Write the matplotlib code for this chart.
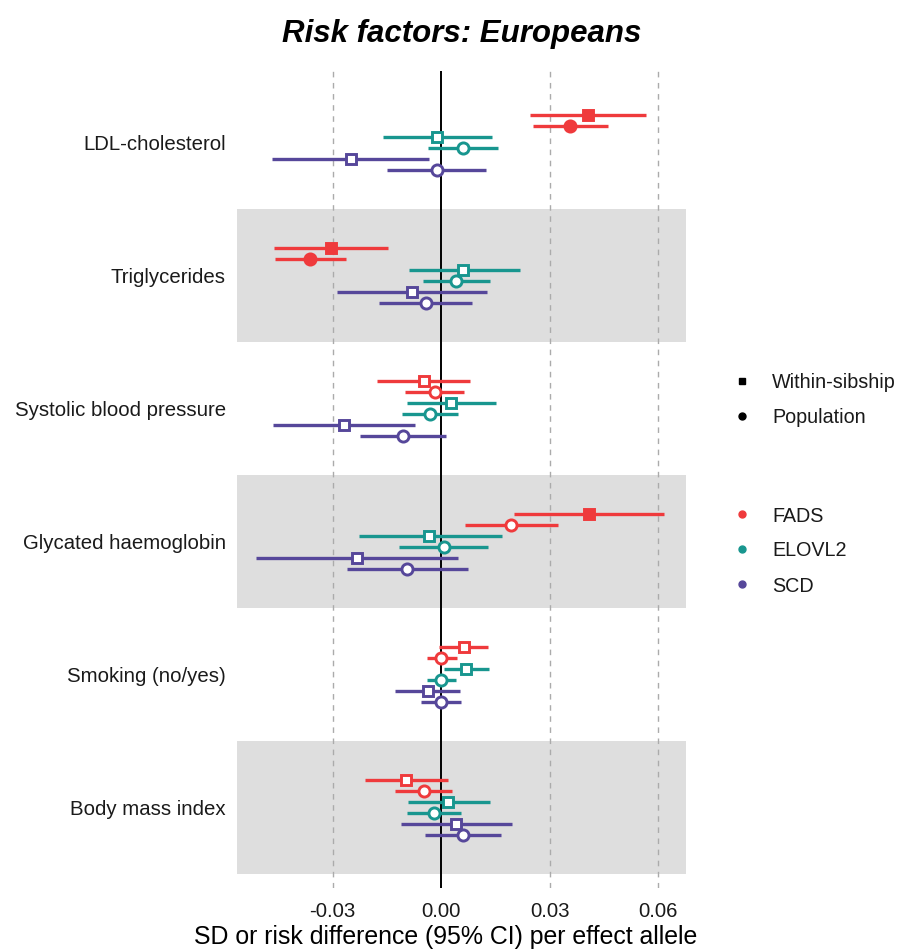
import matplotlib
matplotlib.use("Agg")
from matplotlib import pyplot as plt
from matplotlib.lines import Line2D

plt.rcParams['font.family'] = ['Liberation Sans', 'DejaVu Sans']

# Outcomes, top to bottom
outcomes = ['LDL-cholesterol', 'Triglycerides', 'Systolic blood pressure',
            'Glycated haemoglobin', 'Smoking (no/yes)', 'Body mass index']

genes = ['FADS', 'ELOVL2', 'SCD']
gene_colors = ['#EF3A3C', '#18968F', '#56479A']

# (estimate, lower, upper) per outcome
fads_within = [(0.0406, 0.0246, 0.0566), (-0.0303, -0.0461, -0.0146), (-0.0048, -0.0178, 0.0080),
               (0.0408, 0.0202, 0.0615), (0.0063, -0.0005, 0.0129), (-0.0096, -0.0211, 0.0019)]
fads_pop = [(0.0357, 0.0254, 0.0462), (-0.0362, -0.0459, -0.0264), (-0.0018, -0.0099, 0.0063),
            (0.0194, 0.0067, 0.0322), (0.0001, -0.0038, 0.0043), (-0.0048, -0.0127, 0.0029)]
elovl2_within = [(-0.0011, -0.0161, 0.0141), (0.0062, -0.0089, 0.0218), (0.0028, -0.0094, 0.0151),
                 (-0.0034, -0.0228, 0.0168), (0.0070, 0.0007, 0.0133), (0.0020, -0.0092, 0.0135)]
elovl2_pop = [(0.0061, -0.0037, 0.0157), (0.0041, -0.0050, 0.0136), (-0.0031, -0.0107, 0.0047),
              (0.0008, -0.0116, 0.0131), (0.0000, -0.0038, 0.0040), (-0.0020, -0.0095, 0.0055)]
scd_within = [(-0.0249, -0.0467, -0.0034), (-0.0081, -0.0288, 0.0127), (-0.0269, -0.0465, -0.0073),
              (-0.0232, -0.0511, 0.0047), (-0.0037, -0.0126, 0.0051), (0.0042, -0.0112, 0.0197)]
scd_pop = [(-0.0012, -0.0149, 0.0124), (-0.0043, -0.0171, 0.0085), (-0.0106, -0.0224, 0.0014),
           (-0.0093, -0.0261, 0.0074), (0.0000, -0.0055, 0.0054), (0.0062, -0.0044, 0.0166)]

# filled marker = significant
fads_within_sig = [True, True, False, True, False, False]
fads_pop_sig = [True, True, False, False, False, False]
none_sig = [False] * 6

series = [
    (fads_within, fads_within_sig, 0, 's'),
    (fads_pop, fads_pop_sig, 0, 'o'),
    (elovl2_within, none_sig, 1, 's'),
    (elovl2_pop, none_sig, 1, 'o'),
    (scd_within, none_sig, 2, 's'),
    (scd_pop, none_sig, 2, 'o'),
]

xticks = [-0.03, 0.00, 0.03, 0.06]

fig = plt.figure(figsize=(9.01, 9.51), dpi=100)
ax = fig.add_axes([237 / 901, 1 - 888 / 951, 449 / 901, 817 / 951])

n = len(outcomes)
step = 0.0827
for i, name in enumerate(outcomes):
    yc = n - i
    if i % 2 == 1:
        ax.axhspan(yc - 0.5, yc + 0.5, color='#DEDEDE', lw=0, zorder=0)

for x in xticks:
    if x != 0:
        ax.axvline(x, color='#ABABAB', lw=1, ls=(0, (4, 4)), zorder=1)
ax.axvline(0, color='black', lw=1.4, zorder=2)

for k, (vals, sig, g, mk) in enumerate(series):
    col = gene_colors[g]
    off = (2.5 - k) * step
    for i, (est, lo, hi) in enumerate(vals):
        y = n - i + off
        ax.plot([lo, hi], [y, y], color=col, lw=2.4, solid_capstyle='butt', zorder=3)
        face = col if sig[i] else 'white'
        ax.plot(est, y, marker=mk, ms=7.5 if mk == 's' else 8, mfc=face, mec=col,
                mew=2.1, zorder=4)

ax.set_xlim(-0.0564, 0.0677)
ax.set_ylim(0.5 - 0.105, n + 0.5 + 0.038)
ax.set_xticks(xticks)
ax.set_xticklabels(['-0.03', '0.00', '0.03', '0.06'])
ax.set_yticks([n - i for i in range(n)])
ax.set_yticklabels(outcomes)
ax.tick_params(axis='both', length=0, labelsize=14.7, labelcolor='#1a1a1a')
ax.tick_params(axis='x', pad=10)
ax.tick_params(axis='y', pad=8)
for s in ax.spines.values():
    s.set_visible(False)

ax.set_xlabel('SD or risk difference (95% CI) per effect allele', fontsize=17.9)
ax.xaxis.set_label_coords((446 - 237) / 449, -(937 - 888) / 817, transform=ax.transAxes)
ax.xaxis.label.set_va('center')
ax.set_title('Risk factors: Europeans', fontsize=22.5, fontweight='bold', style='italic', pad=21)

# legends (drawn by hand at figure coordinates)
def fig_marker(xp, yp, mk, col, ms):
    fig.add_artist(Line2D([xp / 901], [1 - yp / 951], marker=mk, color=col, ms=ms,
                          ls='none', transform=fig.transFigure))

for lab, mk, yp in [('Within-sibship', 's', 381), ('Population', 'o', 416)]:
    fig_marker(742, yp, mk, 'black', 5)
    fig.text(772 / 901, 1 - (yp + 2) / 951, lab, fontsize=14.2, va='center', color='#1a1a1a')

for g, yp in zip(range(3), [514, 549, 584]):
    fig_marker(742, yp, 'o', gene_colors[g], 5)
    fig.text(772 / 901, 1 - (yp + 2) / 951, genes[g], fontsize=14.2, va='center', color='#1a1a1a')

plt.savefig('out.png', dpi=100)
